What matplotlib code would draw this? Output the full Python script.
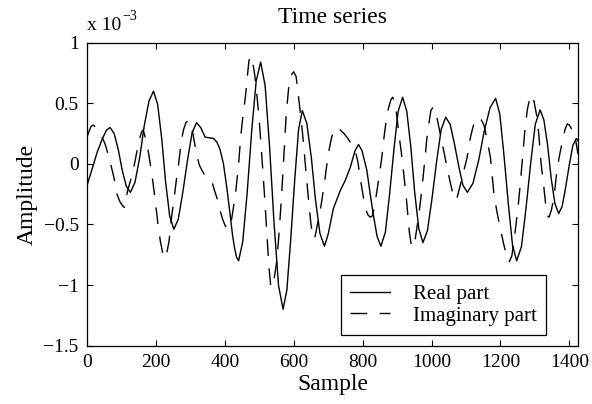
import matplotlib
matplotlib.use("Agg")
import matplotlib.pyplot as plt

# ---- data (amplitude in units of 1e-3) ----
real_sample = [0, 15, 30, 45, 57, 67, 79, 91, 102, 114, 126, 139, 153, 166, 180, 193, 205, 217, 228, 240,
               252, 265, 278, 292, 305, 318, 330, 343, 355, 367, 377, 386, 396, 406, 415, 422, 428, 434, 440, 452,
               465, 478, 491, 504, 517, 530, 543, 556, 569, 580, 591, 603, 614, 625, 638, 651, 663, 676, 689, 700,
               715, 735, 749, 764, 778, 788, 798, 812, 822, 831, 842, 853, 866, 878, 891, 903, 916, 928, 940, 951,
               963, 975, 988, 1001, 1015, 1028, 1041, 1054, 1066, 1079, 1091, 1104, 1120, 1137, 1153, 1170, 1186,
               1198, 1210, 1223, 1235, 1247, 1261, 1274, 1288, 1301, 1315, 1326, 1337, 1347, 1358, 1369, 1379,
               1389, 1400, 1410, 1420, 1425]
real_value = [-0.18, -0.04, 0.10, 0.21, 0.28, 0.30, 0.249, 0.115, -0.050, -0.184, -0.235, -0.155, 0.053, 0.312,
              0.520, 0.60, 0.491, 0.206, -0.146, -0.431, -0.54, -0.456, -0.236, 0.036, 0.256, 0.34, 0.30, 0.22,
              0.215, 0.21, 0.18, 0.12, 0.0, -0.20, -0.41, -0.58, -0.69, -0.77, -0.80, -0.643, -0.233, 0.273,
              0.683, 0.84, 0.645, 0.135, -0.495, -1.005, -1.20, -1.043, -0.633, -0.127, 0.283, 0.44, 0.333,
              0.053, -0.293, -0.573, -0.68, -0.58, -0.37, -0.22, -0.14, -0.03, 0.11, 0.16, 0.11, -0.05, -0.25,
              -0.42, -0.60, -0.68, -0.563, -0.255, 0.125, 0.433, 0.55, 0.435, 0.135, -0.235, -0.535, -0.65,
              -0.551, -0.292, 0.027, 0.286, 0.385, 0.326, 0.171, -0.021, -0.176, -0.235, -0.161, 0.033, 0.272,
              0.466, 0.54, 0.412, 0.077, -0.337, -0.672, -0.80, -0.681, -0.370, 0.015, 0.326, 0.445, 0.363,
              0.150, -0.115, -0.328, -0.41, -0.351, -0.196, -0.004, 0.151, 0.21, 0.19]

imag_sample = [0, 6, 12, 18, 26, 33, 40, 47, 53, 60, 66, 72, 78, 87, 95, 103, 109, 118, 132, 140, 150, 158,
               163, 168, 178, 188, 198, 206, 213, 220, 226, 232, 238, 245, 252, 260, 266, 273, 280, 287, 294,
               300, 308, 318, 326, 333, 341, 352, 362, 370, 377, 386, 394, 401, 408, 414, 420, 425, 432, 440,
               446, 452, 460, 466, 470, 474, 479, 485, 490, 496, 502, 508, 515, 522, 528, 533, 538, 543, 551,
               558, 565, 572, 578, 585, 592, 600, 607, 614, 621, 628, 635, 643, 650, 657, 662, 670, 680, 690,
               700, 710, 718, 725, 735, 746, 757, 766, 773, 780, 786, 792, 800, 807, 815, 822, 828, 834, 840,
               847, 855, 862, 868, 875, 882, 887, 893, 899, 905, 912, 920, 928, 935, 941, 946, 952, 960, 967,
               974, 980, 986, 992, 998, 1005, 1012, 1023, 1033, 1045, 1054, 1062, 1068, 1075, 1083, 1090, 1097,
               1103, 1110, 1118, 1126, 1135, 1145, 1152, 1162, 1171, 1176, 1181, 1190, 1200, 1210, 1218, 1225,
               1233, 1240, 1246, 1252, 1258, 1264, 1270, 1278, 1285, 1291, 1297, 1305, 1311, 1318, 1325, 1331,
               1337, 1341, 1348, 1356, 1362, 1370, 1380, 1388, 1394, 1400, 1410, 1418, 1425]
imag_value = [0.22, 0.27, 0.31, 0.32, 0.30, 0.27, 0.24, 0.20, 0.16, 0.09, 0.03, -0.04, -0.11, -0.25, -0.31,
              -0.345, -0.36, -0.22, -0.08, 0.03, 0.18, 0.26, 0.28, 0.23, 0.10, -0.08, -0.30, -0.50, -0.64,
              -0.74, -0.78, -0.73, -0.64, -0.45, -0.30, -0.12, 0.0, 0.18, 0.28, 0.34, 0.36, 0.34, 0.24, 0.08,
              -0.01, -0.05, -0.09, -0.115, -0.14, -0.22, -0.28, -0.385, -0.46, -0.51, -0.54, -0.52, -0.45,
              -0.36, -0.22, 0.0, 0.22, 0.38, 0.56, 0.74, 0.85, 0.89, 0.86, 0.77, 0.66, 0.48, 0.28, 0.03,
              -0.25, -0.58, -0.85, -1.0, -1.02, -0.95, -0.80, -0.55, -0.25, 0.10, 0.40, 0.62, 0.73, 0.76,
              0.72, 0.55, 0.38, 0.18, -0.05, -0.30, -0.50, -0.62, -0.60, -0.48, -0.33, -0.14, 0.08, 0.22,
              0.29, 0.30, 0.28, 0.25, 0.21, 0.17, 0.14, 0.09, 0.02, -0.10, -0.24, -0.36, -0.42, -0.44, -0.43,
              -0.36, -0.25, -0.12, 0.04, 0.22, 0.35, 0.46, 0.53, 0.55, 0.51, 0.40, 0.25, 0.10, -0.10, -0.32,
              -0.55, -0.67, -0.69, -0.63, -0.48, -0.33, -0.15, 0.02, 0.20, 0.33, 0.44, 0.47, 0.43, 0.28, 0.14,
              -0.03, -0.15, -0.25, -0.30, -0.27, -0.18, -0.09, -0.02, 0.05, 0.18, 0.28, 0.36, 0.385, 0.36,
              0.32, 0.19, 0.05, -0.10, -0.25, -0.40, -0.54, -0.67, -0.76, -0.81, -0.76, -0.62, -0.48, -0.33,
              -0.15, 0.05, 0.25, 0.45, 0.54, 0.57, 0.52, 0.40, 0.25, 0.0, -0.17, -0.33, -0.43, -0.44, -0.38,
              -0.26, -0.10, 0.05, 0.19, 0.29, 0.33, 0.32, 0.27, 0.20, 0.08]

x_ticks = [0, 200, 400, 600, 800, 1000, 1200, 1400]
y_ticks = [-1.5, -1, -0.5, 0, 0.5, 1]
y_tick_labels = ["\u22121.5", "\u22121", "\u22120.5", "0", "0.5", "1"]
series_labels = ["Real part", "Imaginary part"]
title_text = "Time series"
x_label = "Sample"
y_label = "Amplitude"
scale_text = "x 10"
scale_exp = "\u22123"

plt.rcParams['font.family'] = ['Liberation Serif', 'DejaVu Serif']

W, H = 592, 404
fig = plt.figure(figsize=(W / 100, H / 100), dpi=100, facecolor='white')
ax_l, ax_r, ax_t, ax_b = 87, 578, 42.7, 345.6
ax = fig.add_axes([ax_l / W, 1 - ax_b / H, (ax_r - ax_l) / W, (ax_b - ax_t) / H])

ax.plot(real_sample, real_value, color='black', lw=1.0, ls='-', label=series_labels[0])
ax.plot(imag_sample, imag_value, color='black', lw=1.0, ls=(0, (12, 9)), label=series_labels[1])

ax.set_xlim(0, 1425)
ax.set_ylim(-1.5, 1)
ax.set_xticks(x_ticks)
ax.set_xticklabels([str(t) for t in x_ticks])
ax.set_yticks(y_ticks)
ax.set_yticklabels(y_tick_labels)
ax.tick_params(direction='in', length=4, width=0.8, top=True, right=True,
               labelsize=14, pad=6, colors='black')
for sp in ax.spines.values():
    sp.set_linewidth(0.9)
    sp.set_color('black')

ax.set_title(title_text, fontsize=17, pad=14)
ax.set_xlabel(x_label, fontsize=17, labelpad=2)
ax.set_ylabel(y_label, fontsize=17, labelpad=4)

fig.text(ax_l / W, 1 - 30 / H, scale_text, fontsize=14, ha='left', va='baseline')
fig.text(122 / W, 1 - 20 / H, scale_exp, fontsize=10, ha='left', va='baseline')

leg = ax.legend(loc='lower right', bbox_to_anchor=(0.935, 0.035), borderaxespad=0,
                fontsize=15, frameon=True, fancybox=False, framealpha=1, edgecolor='black',
                handlelength=1.9, handletextpad=1.1, borderpad=0.45, labelspacing=0.1)
leg.get_frame().set_linewidth(0.9)

fig.savefig("out.png", dpi=100, facecolor='white')
